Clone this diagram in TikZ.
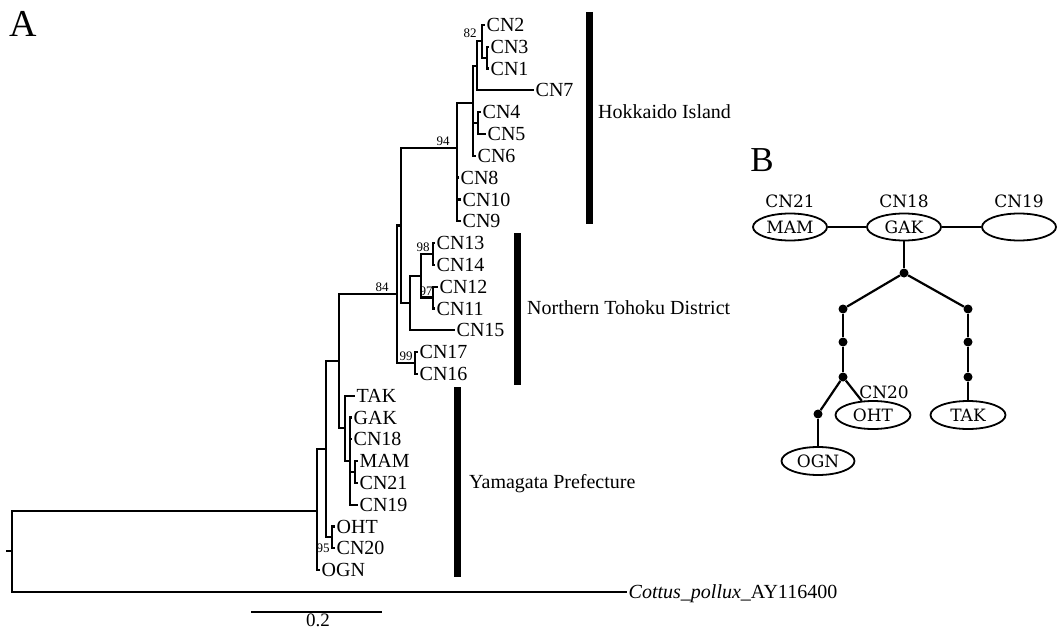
\documentclass[tikz,border=0pt]{standalone}
\usepackage{fontspec}
\setmainfont{Liberation Serif}
\newfontfamily\netfont{DejaVu Serif}
\usetikzlibrary{shapes.geometric}
\tikzset{
  br/.style={line width=2.2pt, line join=miter},
  leaf/.style={anchor=west, inner xsep=1.5pt, inner ysep=0pt, text height=13.2pt, text depth=0pt,
    font=\fontsize{20}{20}\selectfont},
  boot/.style={inner sep=0pt, font=\fontsize{13}{13}\selectfont},
  region/.style={anchor=west, inner sep=0pt, font=\fontsize{20}{20}\selectfont},
  bar/.style={line width=7pt},
  hap/.style={ellipse, draw, line width=1.8pt, minimum width=74pt, minimum height=27pt, inner sep=0pt,
    font=\netfont\fontsize{17}{17}\selectfont},
  hlab/.style={inner sep=0pt, font=\netfont\fontsize{17}{17}\selectfont},
  mv/.style={circle, fill, inner sep=0pt, minimum size=9pt},
  net/.style={line width=2.2pt},
  panel/.style={inner sep=0pt, font=\fontsize{38}{38}\selectfont}
}
\begin{document}
\begin{tikzpicture}[x=1pt,y=-1pt]
\useasboundingbox (0,0) rectangle (1062,631);

% ---- panel letters
\node[panel] (pA) at (23,24) {A};
\node[panel,font=\fontsize{35}{35}\selectfont] (pB) at (762,160) {B};

% ---- leaves
\foreach \n/\x/\y in {
  CN2/485/25, CN3/489/46.8, CN1/489/68.6, CN7/534/90.4, CN4/481/112.2, CN5/486/134,
  CN6/476/155.8, CN8/459/177.6, CN10/461/199.4, CN9/461/221.2,
  CN13/435/243, CN14/435/264.8, CN12/438/286.6, CN11/435/308.4, CN15/455/330.2,
  CN17/418/352, CN16/418/373.8,
  TAK/355/395.6, GAK/352/417.4, CN18/352/439.2, MAM/358/461, CN21/358/482.8, CN19/358/504.6,
  OHT/335/526.4, CN20/335/548.2, OGN/320/570}
  \node[leaf] (\n) at (\x,\y) {\n};
\node[leaf] (Cottus) at (627,591.8) {\textit{Cottus\_pollux}\_AY116400};

% ---- internal nodes
\coordinate (J) at (487,57.7);
\coordinate (N82) at (482,41.35);
\coordinate (I) at (477,65.9);
\coordinate (K) at (478,123.1);
\coordinate (G) at (473,103);
\coordinate (N94) at (457,148);
\coordinate (N98) at (433,253.9);
\coordinate (N97) at (433,297.5);
\coordinate (N420) at (421,275.7);
\coordinate (NT) at (410,303);
\coordinate (Y) at (401,225.5);
\coordinate (N99) at (415,362.9);
\coordinate (N84) at (397,294.2);
\coordinate (F) at (355,471.9);
\coordinate (E) at (350,461);
\coordinate (D) at (345,428.3);
\coordinate (C) at (339,361.2);
\coordinate (N95) at (332,537.3);
\coordinate (B) at (326,449.3);
\coordinate (A) at (317,511);
\coordinate (Root) at (12,551);
\coordinate (RootTip) at (6,551);

% ---- bootstrap values
\node[boot] (b82) at (470,33) {82};
\node[boot] (b94) at (443,141) {94};
\node[boot] (b84) at (382,287) {84};
\node[boot] (b98) at (423,247) {98};
\node[boot] (b97) at (426,291) {97};
\node[boot] (b99) at (406,356) {99};
\node[boot] (b95) at (323,548) {95};

% ---- branches
\foreach \p/\c in {
  J/CN3.west, J/CN1.west, N82/CN2.west, N82/J, I/N82, I/CN7.west,
  K/CN4.west, K/CN5.west, G/I, G/K, G/CN6.west,
  N94/G, N94/CN8.west, N94/CN10.west, N94/CN9.west,
  N98/CN13.west, N98/CN14.west, N97/CN12.west, N97/CN11.west,
  N420/N98, N420/N97, NT/N420, NT/CN15.west, Y/N94, Y/NT,
  N99/CN17.west, N99/CN16.west, N84/Y, N84/N99,
  F/MAM.west, F/CN21.west, E/GAK.west, E/CN18.west, E/F, E/CN19.west,
  D/TAK.west, D/E, C/N84, C/D, N95/OHT.west, N95/CN20.west,
  B/C, B/N95, A/B, A/OGN.west, Root/A, Root/Cottus.west}
  \draw[br] (\p) |- (\c);
\draw[br] (RootTip) -- (Root);

% ---- clade bars and names
\coordinate (h1) at (589,12);  \coordinate (h2) at (589,224);
\coordinate (t1) at (517,233); \coordinate (t2) at (517,385);
\coordinate (y1) at (457,387); \coordinate (y2) at (457,577);
\draw[bar] (h1) -- (h2);
\draw[bar] (t1) -- (t2);
\draw[bar] (y1) -- (y2);
\node[region] (lh) at (598,112) {Hokkaido Island};
\node[region] (lt) at (527,308) {Northern Tohoku District};
\node[region] (ly) at (469,484) {Yamagata Prefecture};

% ---- scale bar
\coordinate (s1) at (251,612); \coordinate (s2) at (382,612);
\draw[br] (s1) -- (s2);
\node[inner sep=0pt, font=\fontsize{19}{19}\selectfont] (sl) at (318,620) {0.2};

% ---- haplotype network
\node[hap] (nMAM) at (790,227) {MAM};
\node[hap] (nGAK) at (904,227) {GAK};
\node[hap] (nCN19) at (1019,227) {};
\node[hlab] (lCN21) at (790,201) {CN21};
\node[hlab] (lCN18) at (904,201) {CN18};
\node[hlab] (lCN19) at (1019,201) {CN19};
\node[mv] (m0) at (904,273) {};
\node[mv] (mL1) at (843,309) {};
\node[mv] (mL2) at (843,342) {};
\node[mv] (mL3) at (843,377) {};
\node[mv] (mR1) at (968,309) {};
\node[mv] (mR2) at (968,342) {};
\node[mv] (mR3) at (968,377) {};
\node[mv] (mO) at (818,414) {};
\node[hap,minimum height=28pt,minimum width=75pt] (nOHT) at (873,415) {OHT};
\node[hap,minimum height=28pt,minimum width=75pt] (nTAK) at (968,415) {TAK};
\node[hap,minimum height=28pt,minimum width=73pt] (nOGN) at (818,461) {OGN};
\node[hlab] (lCN20) at (884,392) {CN20};

\draw[net] (nMAM) -- (nGAK);
\draw[net] (nGAK) -- (nCN19);
\draw[net] (nGAK) -- (m0);
\draw[net] (m0) -- (mL1);
\draw[net] (m0) -- (mR1);
\draw[net] (mL1) -- (mL2);
\draw[net] (mL2) -- (mL3);
\draw[net] (mL3) -- (mO);
\draw[net] (mL3) -- (nOHT);
\draw[net] (mO) -- (nOGN);
\draw[net] (mR1) -- (mR2);
\draw[net] (mR2) -- (mR3);
\draw[net] (mR3) -- (nTAK);
\end{tikzpicture}
\end{document}
